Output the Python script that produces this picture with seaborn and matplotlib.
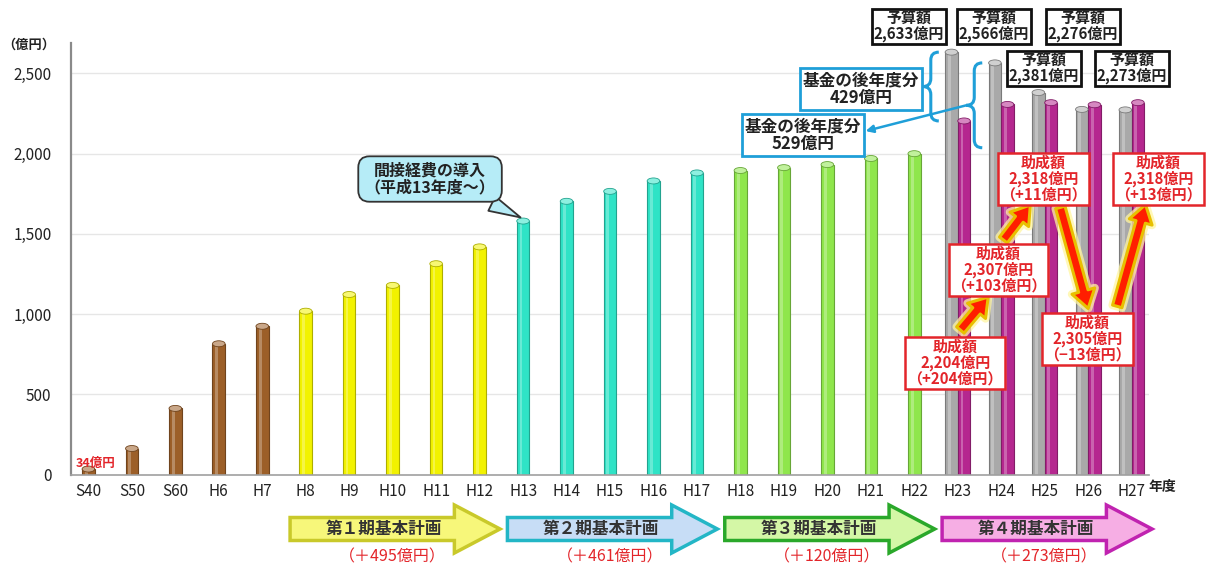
import numpy as np
import pandas as pd
import seaborn as sns
import matplotlib
matplotlib.use("Agg")
import matplotlib.pyplot as plt
import matplotlib.colors as mcolors
import matplotlib.transforms as mtransforms
from matplotlib.patches import Polygon, FancyArrowPatch, PathPatch, Rectangle, Ellipse
from matplotlib.path import Path

# ---- data (億円) ----
fiscal_years = ["S40", "S50", "S60", "H6", "H7", "H8", "H9", "H10", "H11", "H12",
                "H13", "H14", "H15", "H16", "H17", "H18", "H19", "H20", "H21", "H22",
                "H23", "H24", "H25", "H26", "H27"]
# single-series years (S40 - H22)
early_years = fiscal_years[:20]
early_amount = [34, 162, 412, 815, 924, 1018, 1122, 1179, 1314, 1419,
                1580, 1703, 1765, 1830, 1880, 1895, 1913, 1932, 1970, 2000]
era_of_year = ["pre"] * 5 + ["plan1"] * 5 + ["plan2"] * 5 + ["plan3"] * 5
# fund-era years (H23 - H27)
pair_years = ["H23", "H24", "H25", "H26", "H27"]
budget_amount = [2633, 2566, 2381, 2276, 2273]
grant_amount = [2204, 2307, 2318, 2305, 2318]
fund_later = [429, 529]           # 基金の後年度分 for H23, H24

plan_names = ["第１期基本計画", "第２期基本計画", "第３期基本計画", "第４期基本計画"]
plan_first = ["H8", "H13", "H18", "H23"]
plan_last = ["H12", "H17", "H22", "H27"]

era_colors = {"pre": "#9c5f28", "plan1": "#f2f200", "plan2": "#2fe3c6", "plan3": "#8fe64c"}
budget_color = "#a9a9a9"
grant_color = "#b5278f"
plan_fill = ["#f7f77a", "#c7ddf6", "#d4f7a6", "#f6aee4"]
plan_edge = ["#c9c92a", "#23b6c6", "#2aa82a", "#c023b0"]

red = "#e3252a"
blue = "#1f9fd8"

# ---- style ----
sns.set_theme(style="white")
plt.rcParams["font.family"] = ["Noto Sans CJK JP", "DejaVu Sans"]

fig = plt.figure(figsize=(12.16, 5.66), dpi=100)
ax = fig.add_axes([71 / 1216, (566 - 474.5) / 566, 1078 / 1216, (474.5 - 43) / 566])

# ---- bars ----
df_early = pd.DataFrame({"year": early_years, "amount": early_amount, "era": era_of_year})
year_palette = {y: era_colors[e] for y, e in zip(early_years, era_of_year)}
sns.barplot(data=df_early, x="year", y="amount", hue="year", palette=year_palette,
            order=fiscal_years, width=0.29, dodge=False, legend=False,
            errorbar=None, saturation=1, ax=ax)

df_pair = pd.DataFrame({
    "year": pair_years * 2,
    "kind": ["予算額"] * 5 + ["助成額"] * 5,
    "amount": budget_amount + grant_amount,
})
sns.barplot(data=df_pair, x="year", y="amount", hue="kind",
            hue_order=["予算額", "助成額"],
            palette={"予算額": budget_color, "助成額": grant_color},
            order=fiscal_years, width=0.58, legend=False,
            errorbar=None, saturation=1, ax=ax)

# cylinder-like shading on each bar
cap_h = 6 / 0.1604
for p in list(ax.patches):
    fc = np.array(mcolors.to_rgb(p.get_facecolor()))
    p.set_edgecolor(tuple(fc * 0.72))
    p.set_linewidth(0.8)
    x, w, h = p.get_x(), p.get_width(), p.get_height()
    z = p.get_zorder()
    ax.add_patch(Rectangle((x + w * 0.22, 0), w * 0.22, h, facecolor="white",
                           alpha=0.28, linewidth=0, zorder=z + 0.1))
    ax.add_patch(Ellipse((x + w / 2, h), w, cap_h, facecolor=tuple(fc * 0.55 + 0.45),
                         edgecolor=tuple(fc * 0.72), linewidth=0.6, zorder=z + 0.2))

# ---- axes ----
ax.set_xlim(-0.4, 24.4)
ax.set_ylim(0, 2690)
ax.set_xlabel("")
ax.set_ylabel("")
ax.set_xticks(range(len(fiscal_years)))
ax.set_xticklabels(fiscal_years)
ax.set_xticks(np.arange(0.5, len(fiscal_years) - 1, 1), minor=True)
yt = [0, 500, 1000, 1500, 2000, 2500]
ax.set_yticks(yt)
ax.set_yticklabels([f"{v:,}" for v in yt])
ax.tick_params(axis="x", which="major", length=0, pad=6, labelsize=11, colors="#222222")
ax.tick_params(axis="x", which="minor", length=4, width=1, color="#9a9a9a", direction="out")
ax.tick_params(axis="y", length=3, width=1, color="#999999", direction="in", pad=14,
               labelsize=11, colors="#222222")
ax.yaxis.grid(True, color="#e6e6e6", linewidth=1)
ax.set_axisbelow(True)
for s in ["top", "right"]:
    ax.spines[s].set_visible(False)
ax.spines["left"].set_color("#8a8a8a")
ax.spines["left"].set_linewidth(1.6)
ax.spines["bottom"].set_color("#a0a0a0")
ax.spines["bottom"].set_linewidth(1.2)

fig.text(29 / 1216, 1 - 45 / 566, "（億円）", ha="center", va="center",
         fontsize=9.5, fontweight="bold", color="#222222")
fig.text(1162 / 1216, 1 - 487 / 566, "年度", ha="center", va="center",
         fontsize=10, fontweight="bold", color="#222222")

# first-year value label
ax.text(0.17, early_amount[0] + 35, f"{early_amount[0]}億円", ha="center", va="center",
        fontsize=9, fontweight="bold", color=red, zorder=6)

# indirect-cost callout
h13 = fiscal_years.index("H13")
ax.annotate("間接経費の導入\n（平成13年度～）",
            xy=(h13, early_amount[h13] + 15), xytext=(7.86, 1842),
            ha="center", va="center", fontsize=11.5, fontweight="bold", color="#222222",
            linespacing=1.05,
            bbox=dict(boxstyle="round,pad=0.4,rounding_size=0.7", fc="#b6ecf7",
                      ec="#333333", lw=1.3),
            arrowprops=dict(arrowstyle="wedge,tail_width=1.0,shrink_factor=0.5",
                            fc="#b6ecf7", ec="#333333", lw=1.3, relpos=(0.8, 0.08)),
            zorder=7)

# ---- budget boxes above the fund-era bars ----
budget_box_xy = [(18.88, 2797), (20.83, 2797), (21.98, 2534), (22.88, 2797), (24.0, 2534)]
for (bx, by), v in zip(budget_box_xy, budget_amount):
    ax.text(bx, by, f"予算額\n{v:,}億円", ha="center", va="center", fontsize=10.8,
            fontweight="bold", color="#222222", linespacing=0.95, clip_on=False,
            bbox=dict(boxstyle="square,pad=0.12", fc="white", ec="#111111", lw=2),
            zorder=8)

# ---- braces for the fund carry-over portion ----
def draw_brace(x0, ytop, ybot, color):
    rx, ry = 8 / 43.47, 8 / 0.1604
    ymid = (ytop + ybot) / 2
    verts = [(x0 + rx, ytop), (x0, ytop), (x0, ytop - ry),
             (x0, ymid + ry), (x0, ymid), (x0 - rx, ymid),
             (x0, ymid), (x0, ymid - ry),
             (x0, ybot + ry), (x0, ybot), (x0 + rx, ybot)]
    codes = [Path.MOVETO, Path.CURVE3, Path.CURVE3,
             Path.LINETO, Path.CURVE3, Path.CURVE3,
             Path.CURVE3, Path.CURVE3,
             Path.LINETO, Path.CURVE3, Path.CURVE3]
    ax.add_patch(PathPatch(Path(verts, codes), fc="none", ec=color, lw=2.2,
                           clip_on=False, zorder=7))
    return x0 - rx, ymid

i23 = fiscal_years.index("H23")
tip1 = draw_brace(i23 - 0.29 - 0.33, budget_amount[0], budget_amount[0] - fund_later[0], blue)
tip2 = draw_brace(i23 + 1 - 0.29 - 0.33, budget_amount[1], budget_amount[1] - fund_later[1], blue)

ax.text(tip1[0] - 0.08, tip1[1] - 15, f"基金の後年度分\n{fund_later[0]}億円", ha="right",
        va="center", multialignment="center", fontsize=12, fontweight="bold",
        color="#222222", linespacing=1.0, zorder=8,
        bbox=dict(boxstyle="square,pad=0.18", fc="white", ec=blue, lw=2))
ax.text(17.78, 2117, f"基金の後年度分\n{fund_later[1]}億円", ha="right",
        va="center", multialignment="center", fontsize=12, fontweight="bold",
        color="#222222", linespacing=1.0, zorder=8,
        bbox=dict(boxstyle="square,pad=0.18", fc="white", ec=blue, lw=2))
ax.add_patch(FancyArrowPatch(tip2, (17.88, 2141), arrowstyle="-|>", mutation_scale=11,
                             color=blue, lw=1.8, shrinkA=0, shrinkB=0, clip_on=False,
                             zorder=7))

# ---- grant boxes with change arrows ----
grant_prev = [early_amount[-1]] + grant_amount[:-1]
grant_box_xy = [(19.94, 695), (20.94, 1275), (21.97, 1842), (22.98, 845), (24.62, 1842)]
for (bx, by), v, pv in zip(grant_box_xy, grant_amount, grant_prev):
    d = v - pv
    sign = "+" if d >= 0 else "−"
    ax.text(bx, by, f"助成額\n{v:,}億円\n（{sign}{abs(d)}億円）", ha="center", va="center",
            fontsize=10.8, fontweight="bold", color=red, linespacing=0.98, clip_on=False,
            bbox=dict(boxstyle="square,pad=0.14", fc="white", ec=red, lw=1.8),
            zorder=8)

change_arrows = [((20.06, 901), (20.70, 1106)),
                 ((21.05, 1462), (21.67, 1680)),
                 ((22.36, 1665), (23.00, 1035)),
                 ((23.67, 1048), (24.32, 1683))]
for tail, head in change_arrows:
    style = "simple,head_length=13,head_width=17,tail_width=7"
    ax.add_patch(FancyArrowPatch(tail, head, arrowstyle=style, mutation_scale=1,
                                 fc="#fff27a", ec="#fff6a0", lw=6, alpha=0.75,
                                 shrinkA=0, shrinkB=0, clip_on=False, zorder=7))
    ax.add_patch(FancyArrowPatch(tail, head, arrowstyle=style, mutation_scale=1,
                                 fc="#ff1e00", ec="#e8c000", lw=2.2,
                                 shrinkA=0, shrinkB=0, clip_on=False, zorder=7.5))

# ---- plan arrows below the axis ----
blend = mtransforms.blended_transform_factory(ax.transData, fig.transFigure)
yc = (566 - 529) / 566
body_h = 11.5 / 566
head_h = 24 / 566
plan_gain = []
for first, last in zip(plan_first, plan_last):
    i0, i1 = fiscal_years.index(first), fiscal_years.index(last)
    start = early_amount[i0 - 1]
    end = early_amount[i1] if i1 < len(early_amount) else budget_amount[-1]
    plan_gain.append(end - start)

for k, (first, last) in enumerate(zip(plan_first, plan_last)):
    i0, i1 = fiscal_years.index(first), fiscal_years.index(last)
    xs, xe = i0 - 0.36, i1 + 0.47
    xh = xe - 1.05
    pts = [(xs, yc + body_h), (xh, yc + body_h), (xh, yc + head_h), (xe, yc),
           (xh, yc - head_h), (xh, yc - body_h), (xs, yc - body_h)]
    ax.add_patch(Polygon(pts, closed=True, transform=blend, fc=plan_fill[k],
                         ec=plan_edge[k], lw=2.5, joinstyle="miter", clip_on=False))
    ax.text((i0 + i1) / 2 - 0.2, yc, plan_names[k], transform=blend, ha="center",
            va="center", fontsize=12, fontweight="bold", color="#333333")
    ax.text((i0 + i1) / 2, (566 - 557) / 566, f"（＋{plan_gain[k]}億円）", transform=blend,
            ha="center", va="center", fontsize=11.5, color=red)

fig.savefig("out.png", dpi=100)
